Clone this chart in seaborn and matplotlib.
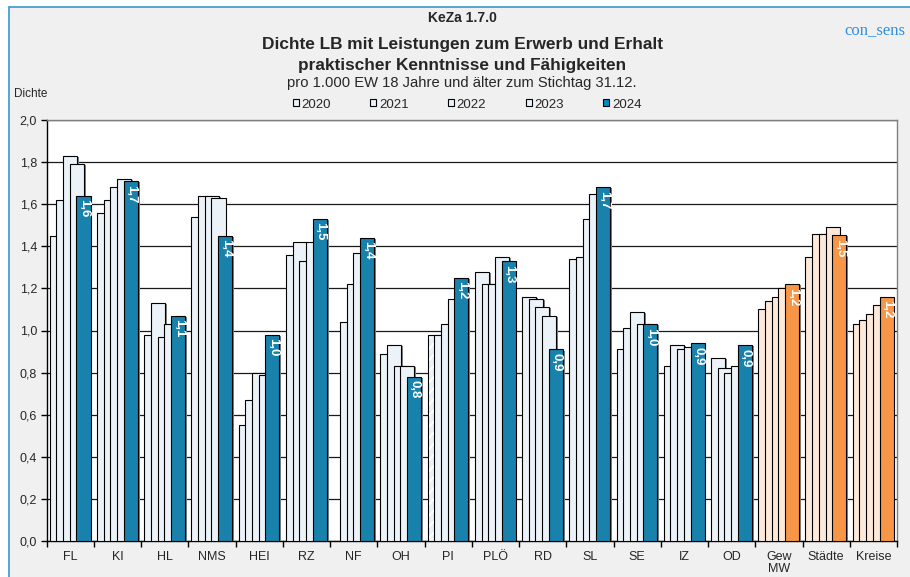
import matplotlib
matplotlib.use("Agg")
import matplotlib.pyplot as plt
import matplotlib.patheffects as pe
from matplotlib.patches import Patch, Rectangle
import numpy as np
import pandas as pd
import seaborn as sns

REGIONS = ["FL", "KI", "HL", "NMS", "HEI", "RZ", "NF", "OH", "PI", "PLÖ",
           "RD", "SL", "SE", "IZ", "OD", "Gew\nMW", "Städte", "Kreise"]
YEARS = ["2020", "2021", "2022", "2023", "2024"]

V2020 = [1.45, 1.56, 0.98, 1.54, 0.55, 1.36, np.nan, 0.89, 0.98, 1.28,
         1.16, 1.34, 0.91, 0.83, 0.87, 1.10, 1.35, 1.03]
V2021 = [1.62, 1.62, 1.13, 1.64, 0.67, 1.42, 1.04, 0.93, 0.98, 1.22,
         1.15, 1.35, 1.01, 0.93, 0.82, 1.14, 1.46, 1.05]
V2022 = [1.83, 1.68, 0.97, 1.64, 0.80, 1.33, 1.22, 0.83, 1.03, 1.22,
         1.11, 1.53, 1.09, 0.91, 0.80, 1.16, 1.46, 1.08]
V2023 = [1.79, 1.72, 1.03, 1.63, 0.79, 1.42, 1.37, 0.83, 1.15, 1.35,
         1.07, 1.65, 1.03, 0.92, 0.83, 1.20, 1.49, 1.12]
V2024 = [1.64, 1.71, 1.07, 1.45, 0.98, 1.53, 1.44, 0.78, 1.25, 1.33,
         0.91, 1.68, 1.03, 0.94, 0.93, 1.22, 1.452, 1.16]

SUMMARY_REGIONS = ["Gew\nMW", "Städte", "Kreise"]
HATCHED = ("PI", "2020")

LIGHT_BLUE = "#E9F2FA"
BLUE = "#008BC4"
LIGHT_ORANGE = "#FDE9D9"
ORANGE = "#F79646"

frame = pd.DataFrame({
    "region": np.tile(REGIONS, len(YEARS)),
    "year": np.repeat(YEARS, len(REGIONS)),
    "value": V2020 + V2021 + V2022 + V2023 + V2024,
}).dropna(subset=["value"])

sns.set_style("white")
plt.rcParams["font.family"] = ["Liberation Sans", "DejaVu Sans"]
plt.rcParams["hatch.linewidth"] = 1.5

fig = plt.figure(figsize=(9.1, 5.77), dpi=100)
fig.patch.set_facecolor("white")
fig.patches.append(Rectangle((9 / 910, -0.01), 1.0, 1 - 7 / 577 + 0.01,
                             transform=fig.transFigure, facecolor="#F0F0F0",
                             edgecolor="#3A96D0", linewidth=1.2, zorder=-10))

ax = fig.add_axes([46.7 / 910, 36 / 577, 850.3 / 910, 421 / 577])
ax.set_facecolor("white")

group_w = 0.71
step = group_w / len(YEARS)
bar_w = 0.297
shift = -0.0825

palette = {y: LIGHT_BLUE for y in YEARS}
palette["2024"] = BLUE
sns.barplot(data=frame, x="region", y="value", hue="year", order=REGIONS,
            hue_order=YEARS, palette=palette, width=group_w, dodge=True,
            edgecolor="black", linewidth=0.8, legend=False, ax=ax, zorder=3)

shadow = [pe.SimplePatchShadow(offset=(1.3, -0.8), shadow_rgbFace="#7F7F7F",
                               alpha=1.0), pe.Normal()]
for year, container in zip(YEARS, ax.containers):
    for patch in container.patches:
        h = patch.get_height()
        if not np.isfinite(h):
            continue
        idx = int(round(patch.get_x() + patch.get_width() / 2))
        region = REGIONS[idx]
        left = patch.get_x() + shift
        patch.set_x(left)
        patch.set_width(bar_w)
        patch.set_path_effects(shadow)
        if region in SUMMARY_REGIONS:
            patch.set_facecolor(ORANGE if year == "2024" else LIGHT_ORANGE)
        if (region, year) == HATCHED:
            ax.add_patch(Rectangle((left + 0.025, 0.005), step - 0.04, h - 0.015,
                                   fill=False, hatch="///", edgecolor="white",
                                   linewidth=0, zorder=3))
        if year == "2024":
            ax.annotate(f"{h:.1f}".replace(".", ","), (left + bar_w / 2, h),
                        xytext=(0.5, -2.5), textcoords="offset points",
                        rotation=270, ha="center", va="top", color="white",
                        fontsize=9.5, fontweight="bold", zorder=5)

ax.set_xlim(-0.5, len(REGIONS) - 0.5)
ax.set_ylim(0, 2.0)
yticks = np.round(np.arange(0, 2.01, 0.2), 1)
ax.set_yticks(yticks)
ax.set_yticklabels([f"{t:.1f}".replace(".", ",") for t in yticks], fontsize=9)
ax.set_xticks(np.arange(len(REGIONS) + 1) - 0.5)
ax.set_xticklabels([])
ax.set_xticks(np.arange(len(REGIONS)), minor=True)
ax.set_xticklabels(REGIONS, minor=True, fontsize=9, linespacing=1.0)
ax.tick_params(axis="x", which="major", direction="out", length=4, width=1,
               color="black", bottom=True)
ax.tick_params(axis="x", which="minor", length=0, pad=7)
ax.tick_params(axis="y", direction="out", length=4, width=1, color="black",
               left=True, pad=3)
ax.set_xlabel("")
ax.set_ylabel("")
ax.yaxis.grid(True, color="#1A1A1A", linewidth=0.9, zorder=0)
ax.set_axisbelow(True)
for side in ("left", "bottom"):
    ax.spines[side].set_color("black")
    ax.spines[side].set_linewidth(1.0)
for side in ("top", "right"):
    ax.spines[side].set_color("#808080")
    ax.spines[side].set_linewidth(1.0)

fig.text(462 / 910, 1 - 17.5 / 577, "KeZa 1.7.0", ha="center", va="center",
         fontsize=10, fontweight="bold")
fig.text(462 / 910, 1 - 44.5 / 577, "Dichte LB mit Leistungen zum Erwerb und Erhalt",
         ha="center", va="center", fontsize=12.4, fontweight="bold")
fig.text(462 / 910, 1 - 65.5 / 577, "praktischer Kenntnisse und Fähigkeiten",
         ha="center", va="center", fontsize=12.4, fontweight="bold")
fig.text(462 / 910, 1 - 83 / 577,
         "pro 1.000 EW 18 Jahre und älter zum Stichtag 31.12.",
         ha="center", va="center", fontsize=10.6)
fig.text(14 / 910, 1 - 94 / 577, "Dichte", ha="left", va="center", fontsize=8.5)
fig.text(905 / 910, 1 - 30 / 577, "con_sens", ha="right", va="center",
         fontsize=12, color="#2F8FE0", family=["Liberation Serif", "DejaVu Serif"])

handles = [Patch(facecolor=BLUE if y == "2024" else LIGHT_BLUE,
                 edgecolor="black", linewidth=0.8, label=y) for y in YEARS]
fig.legend(handles=handles, loc="center", bbox_to_anchor=(467 / 910, 1 - 104.5 / 577),
           ncol=5, frameon=False, fontsize=9.5, handlelength=0.45,
           handleheight=0.45, handletextpad=0.2, columnspacing=3.0)

fig.savefig("out.png", dpi=100)
